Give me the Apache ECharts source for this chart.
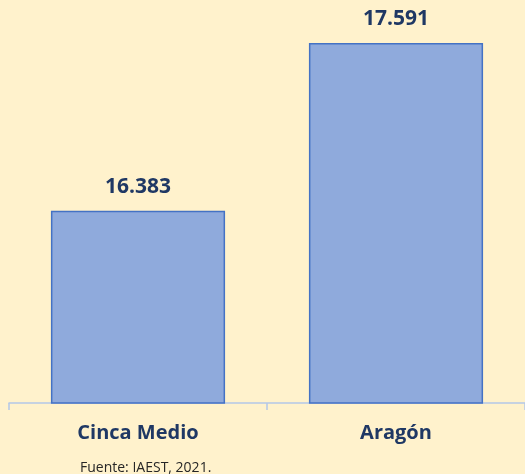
<!DOCTYPE html>
<html lang="es">
<head>
    <meta charset="UTF-8">
    <title>Cinca Medio - Aragón</title>
    <style>
        html, body { margin: 0; padding: 0; background: #FFF2CC; }
        #chart { width: 525px; height: 474px; }
    </style>
    <script src="https://cdn.jsdelivr.net/npm/echarts@6/dist/echarts.min.js"></script>
</head>
<body>
    <div id="chart"></div>
    <script>
        var categories = ['Cinca Medio', 'Aragón'];
        var values = [16383, 17591];
        var source = 'Fuente: IAEST, 2021.';

        function fmt(v) {
            return String(v).replace(/\B(?=(\d{3})+(?!\d))/g, '.');
        }

        var myChart = echarts.init(document.getElementById('chart'));
        var option = {
            backgroundColor: '#FFF2CC',
            animation: false,
            title: {
                text: source,
                left: 75,
                top: 456,
                textStyle: {
                    fontFamily: 'Open Sans',
                    fontSize: 14,
                    fontWeight: 'normal',
                    color: '#262626'
                }
            },
            grid: { left: 9, right: -1, top: 0, bottom: 71 },
            xAxis: {
                type: 'category',
                data: categories,
                axisLine: { lineStyle: { color: '#B4C7E7', width: 1.5 } },
                axisTick: { show: true, length: 7, lineStyle: { color: '#B4C7E7', width: 1.5 } },
                axisLabel: {
                    margin: 20,
                    fontFamily: 'Open Sans',
                    fontSize: 20,
                    fontWeight: 'bold',
                    color: '#1F3864'
                }
            },
            yAxis: {
                type: 'value',
                min: 15000,
                max: 17900,
                show: false,
                splitLine: { show: false }
            },
            series: [{
                type: 'bar',
                data: values,
                barWidth: '67.5%',
                itemStyle: {
                    color: '#8FAADC',
                    borderColor: '#4472C4',
                    borderWidth: 1.5
                },
                label: {
                    show: true,
                    position: 'top',
                    distance: 13,
                    fontFamily: 'Open Sans',
                    fontSize: 21,
                    fontWeight: 'bold',
                    color: '#1F3864',
                    formatter: function (p) { return fmt(p.value); }
                }
            }]
        };
        myChart.setOption(option);
    </script>
</body>
</html>
